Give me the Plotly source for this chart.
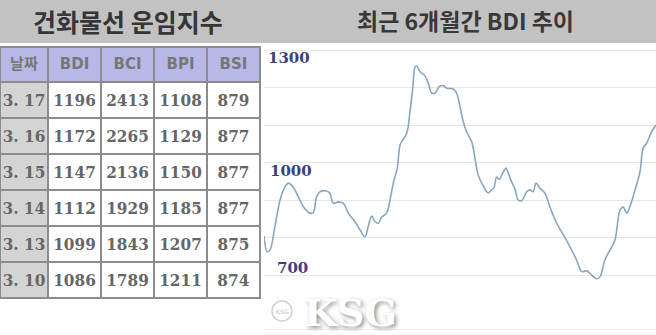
import plotly.graph_objects as go

# ---- table data ----
table_header = ["날짜", "BDI", "BCI", "BPI", "BSI"]
dates = ["3.\u00a017", "3.\u00a016", "3.\u00a015", "3.\u00a014", "3.\u00a013", "3.\u00a010"]
bdi_tbl = [1196, 1172, 1147, 1112, 1099, 1086]
bci_tbl = [2413, 2265, 2136, 1929, 1843, 1789]
bpi_tbl = [1108, 1129, 1150, 1185, 1207, 1211]
bsi_tbl = [879, 877, 877, 877, 875, 874]

# ---- BDI 6-month trend (day offset, index value) ----
days = [0.0, 1.5, 2.8, 5.1, 7.5, 9.8, 11.4, 13.7, 16.0, 18.4, 21.5, 23.0, 24.6, 26.2,
        29.3, 30.8, 32.4, 34.7, 37.1, 39.4, 42.5, 44.9, 47.2, 48.7, 50.3, 51.9, 53.4,
        55.0, 57.3, 58.9, 60.4, 61.2, 62.3, 63.6, 64.8, 66.7, 68.2, 69.5, 70.6, 71.3,
        72.9, 75.2, 76.8, 78.4, 79.9, 82.2, 83.8, 85.4, 88.5, 90.0, 91.6, 93.1, 94.7,
        97.1, 98.6, 100.1, 102.5, 104.8, 106.4, 107.5, 108.7, 110.0, 111.5, 113.1,
        114.2, 115.7, 117.3, 118.8, 120.4, 122.8, 124.3, 125.8, 127.1, 129.0, 131.3,
        133.6, 136.8, 139.9, 143.0, 146.1, 148.5, 150.8, 153.1, 155.5, 157.0, 159.3,
        161.7, 164.0, 166.4, 167.9, 169.5, 171.0, 173.4, 175.7, 177.2, 178.8, 181.2, 183.2]
bdi = [804, 762, 767, 829, 900, 935, 945, 934, 909, 882, 865, 866, 909, 922,
       924, 918, 891, 895, 891, 865, 842, 820, 802, 829, 857, 842, 838,
       854, 865, 900, 945, 962, 985, 1047, 1060, 1078, 1135, 1198, 1255, 1258,
       1242, 1231, 1211, 1185, 1185, 1204, 1205, 1198, 1196, 1185, 1149, 1109, 1082,
       1055, 1011, 967, 937, 919, 928, 933, 961, 955, 971, 985,
       971, 949, 929, 900, 898, 922, 927, 922, 945, 931, 918,
       882, 838, 807, 775, 740, 709, 711, 700, 690, 695, 740,
       767, 793, 873, 881, 865, 882, 927, 975, 1038, 1051, 1082, 1100]

y_label_text = ["1300", "1000", "700"]
y_label_val = [1279, 977, 719]
y_label_xpx = [289, 291, 292]

W, H = 656, 335

def px_y(p):
    return 1 - p / H

fig = go.Figure()

# table
gray_col = "#d4d4d4"
txtc = "#666666"
cells_values = [
    [f"<b>{d}</b>" for d in dates],
    [f"<b>{v}</b>" for v in bdi_tbl],
    [f"<b>{v}</b>" for v in bci_tbl],
    [f"<b>{v}</b>" for v in bpi_tbl],
    [f"<b>{v}</b>" for v in bsi_tbl],
]
fig.add_trace(go.Table(
    domain=dict(x=[0, 260 / W], y=[px_y(299), px_y(47)]),
    columnwidth=[48, 53, 53, 53, 53],
    header=dict(
        values=[f"<b>{h}</b>" for h in table_header],
        fill_color="#b8b8e8",
        line=dict(color="#8c8c8c", width=1.5),
        font=dict(family="DejaVu Sans, Noto Sans CJK KR", size=15, color="#777777"),
        align="center",
        height=35,
    ),
    cells=dict(
        values=cells_values,
        fill_color=[[gray_col] * 6] + [["#ffffff"] * 6] * 4,
        line=dict(color="#8c8c8c", width=1.5),
        font=dict(family="DejaVu Serif Condensed, DejaVu Serif", size=17, color=txtc),
        align="center",
        height=36,
    ),
))

# BDI line
fig.add_trace(go.Scatter(
    x=days, y=bdi, mode="lines",
    line=dict(color="#87a7c0", width=1.6, shape="spline", smoothing=1.0),
    hoverinfo="skip", showlegend=False,
))

fig.update_layout(
    width=W, height=H,
    margin=dict(l=0, r=0, t=0, b=0),
    paper_bgcolor="white", plot_bgcolor="white",
    showlegend=False,
    xaxis=dict(domain=[264 / W, 1], range=[0, 183.2], showgrid=False, zeroline=False,
               showticklabels=False, ticks="", showline=True, linecolor="#efefef",
               linewidth=1),
    yaxis=dict(domain=[px_y(329), px_y(12.5)], range=[556, 1400],
               tickvals=[700, 800, 900, 1000, 1100, 1200, 1300],
               showticklabels=False, ticks="", gridcolor="#e6e6e6", gridwidth=1,
               zeroline=False, showline=False),
)

# header banner
fig.add_shape(type="rect", xref="paper", yref="paper", x0=0, x1=1,
              y0=px_y(43), y1=1, fillcolor="#c2c2c2", line=dict(width=0), layer="above")

fig.add_annotation(x=128 / W, y=px_y(21), xref="paper", yref="paper",
                   xanchor="center", yanchor="middle",
                   text="<b>건화물선 운임지수</b>", showarrow=False,
                   font=dict(family="Noto Sans CJK KR", size=25, color="#363636"))
fig.add_annotation(x=465 / W, y=px_y(20), xref="paper", yref="paper",
                   xanchor="center", yanchor="middle",
                   text="<b>최근 6개월간 BDI 추이</b>", showarrow=False,
                   font=dict(family="Noto Sans CJK KR", size=23, color="#383838"))

# y value labels
for t, v, xp in zip(y_label_text, y_label_val, y_label_xpx):
    fig.add_annotation(x=xp / W, y=v, xref="paper", yref="y", text=f"<b>{t}</b>",
                       xanchor="center", yanchor="middle", showarrow=False,
                       font=dict(family="DejaVu Serif", size=15, color="#3c4279"))

# watermark
fig.add_shape(type="circle", xref="paper", yref="paper",
              x0=272 / W, x1=292 / W, y0=px_y(321), y1=px_y(301),
              fillcolor="white", line=dict(color="#cfcfcf", width=1.5), layer="above")
fig.add_annotation(x=282 / W, y=px_y(311), xref="paper", yref="paper", text="KSG",
                   xanchor="center", yanchor="middle", showarrow=False,
                   font=dict(family="DejaVu Sans", size=6, color="#bdbdbd"))
fig.add_annotation(x=350 / W, y=px_y(312), xref="paper", yref="paper", text="<b>KSG</b>",
                   xanchor="center", yanchor="middle", showarrow=False,
                   font=dict(family="DejaVu Serif", size=38, color="white",
                             shadow="2px 2px 4px #8f8f8f"))

fig.write_html("out.html")
